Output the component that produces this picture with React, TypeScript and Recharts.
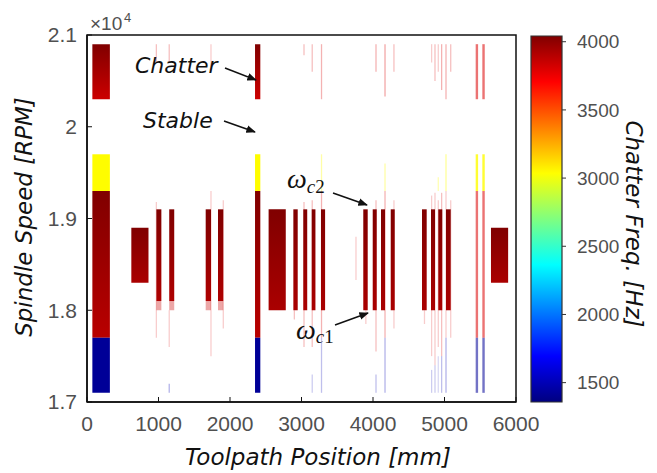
import React from "react";
import { ComposedChart, XAxis, YAxis, ReferenceArea } from "recharts";

// ---------- axes ----------
const xTicks = [0, 1000, 2000, 3000, 4000, 5000, 6000];
const yTicks = [17000, 18000, 19000, 20000, 21000];
const freqTicks = [1500, 2000, 2500, 3000, 3500, 4000];
const freqLimits = [1358, 4042];

// ---------- data ----------
// full spindle-speed sweeps: tool-path ranges [mm]
const sweepCuts = [
  [75, 320],
  [2350, 2424],
];
const sweepFadedCuts = [
  [5436, 5470],
  [5529, 5563],
];
// sweep segments: [rpmLow, rpmHigh, freqTop, freqBottom]
const sweepSegments = [
  [20300, 20900, 4042, 3840],
  [19300, 19700, 3040, 3040],
  [17700, 19300, 4042, 3890],
  [17100, 17700, 1420, 1420],
];
// early chatter stripes (solid 18100-19100, faded 18000-18100)
const earlyStripes = [
  [970, 1040],
  [1150, 1220],
  [1660, 1734],
  [1832, 1906],
];
// lobe stripes (solid 18000-19100)
const lobeStripes = [
  [2886, 2947], [3025, 3080], [3143, 3195], [3273, 3330],
  [3864, 3926], [3996, 4052], [4112, 4168], [4248, 4304],
  [4685, 4751], [4811, 4867], [4913, 4969], [5021, 5087],
];
// blocks: [x0, x1, rpmLow, rpmHigh]
const lobeBlocks = [
  [620, 860, 18300, 18900],
  [2540, 2780, 18000, 19100],
  [5650, 5890, 18300, 18900],
];
// faint traces: [x, rpmLow, rpmHigh, freq, alpha]
const faintTraces = [
  [970, 20700, 20900, 3800, 0.25],
  [1150, 20700, 20900, 3800, 0.25],
  [1734, 20600, 20900, 3800, 0.2],
  [3035, 20780, 20900, 3800, 0.25],
  [3150, 20600, 20900, 3800, 0.25],
  [3280, 20300, 20900, 3800, 0.3],
  [4042, 20600, 20900, 3800, 0.3],
  [4168, 20330, 20900, 3800, 0.35],
  [4293, 20600, 20900, 3800, 0.25],
  [4820, 20700, 20900, 3800, 0.2],
  [4867, 20500, 20900, 3800, 0.25],
  [4913, 20600, 20900, 3800, 0.2],
  [4960, 20400, 20900, 3800, 0.3],
  [5021, 20300, 20900, 3800, 0.3],
  [5087, 20600, 20900, 3800, 0.25],
  [3280, 19300, 19700, 3040, 0.35],
  [4168, 19300, 19600, 3040, 0.35],
  [5021, 19300, 19700, 3040, 0.4],
  [4913, 19300, 19450, 3040, 0.3],
  [970, 17700, 19180, 3800, 0.2],
  [1150, 17600, 18000, 3800, 0.2],
  [1150, 17100, 17200, 1500, 0.3],
  [1734, 17500, 19300, 3800, 0.2],
  [1906, 17800, 19200, 3800, 0.2],
  [2900, 17900, 18000, 3800, 0.25],
  [3035, 17600, 19180, 3800, 0.25],
  [3150, 17600, 19200, 3800, 0.25],
  [3150, 17100, 17300, 1500, 0.2],
  [3280, 17700, 19300, 3800, 0.3],
  [3280, 17100, 17700, 1500, 0.25],
  [3762, 18330, 18800, 3800, 0.2],
  [3900, 17850, 18000, 3800, 0.2],
  [4042, 17550, 19200, 3800, 0.25],
  [4042, 17100, 17300, 1500, 0.25],
  [4168, 17700, 19300, 3800, 0.3],
  [4168, 17100, 17700, 1500, 0.3],
  [4293, 17800, 19200, 3800, 0.2],
  [4720, 17850, 18000, 3800, 0.2],
  [4820, 17500, 19250, 3800, 0.2],
  [4820, 17100, 17350, 1500, 0.2],
  [4867, 17400, 19280, 3800, 0.2],
  [4867, 17100, 17400, 1500, 0.2],
  [4913, 17600, 19200, 3800, 0.2],
  [4913, 17100, 17500, 1500, 0.15],
  [4960, 17500, 19280, 3800, 0.25],
  [4960, 17100, 17500, 1500, 0.25],
  [5021, 17700, 19300, 3800, 0.2],
  [5021, 17100, 17700, 1500, 0.3],
  [5087, 17700, 19200, 3800, 0.2],
];

// ---------- colour map (jet) ----------
function jet(f: number): string {
  const t = (f - freqLimits[0]) / (freqLimits[1] - freqLimits[0]);
  const ch = (v: number) => Math.round(255 * Math.min(1, Math.max(0, v)));
  return `rgb(${ch(1.5 - Math.abs(4 * t - 3))},${ch(1.5 - Math.abs(4 * t - 2))},${ch(
    1.5 - Math.abs(4 * t - 1)
  )})`;
}
const jetStops = [0, 0.125, 0.375, 0.625, 0.875, 1];

type Cell = { x0: number; x1: number; y0: number; y1: number; fTop: number; fBot: number; a: number };
const cells: Cell[] = [];
sweepCuts.forEach(([x0, x1]) =>
  sweepSegments.forEach(([y0, y1, fTop, fBot]) => cells.push({ x0, x1, y0, y1, fTop, fBot, a: 1 }))
);
sweepFadedCuts.forEach(([x0, x1]) =>
  sweepSegments.forEach(([y0, y1, fTop, fBot]) =>
    cells.push({ x0, x1, y0, y1, fTop: Math.min(fTop, 3800), fBot: Math.min(fBot, 3800), a: fTop === 3040 ? 0.8 : 0.55 })
  )
);
earlyStripes.forEach(([x0, x1]) => {
  cells.push({ x0, x1, y0: 18100, y1: 19100, fTop: 4042, fBot: 3920, a: 1 });
  cells.push({ x0, x1, y0: 18000, y1: 18100, fTop: 3850, fBot: 3850, a: 0.35 });
});
lobeStripes.forEach(([x0, x1]) => cells.push({ x0, x1, y0: 18000, y1: 19100, fTop: 4042, fBot: 3930, a: 1 }));
lobeBlocks.forEach(([x0, x1, y0, y1]) => cells.push({ x0, x1, y0, y1, fTop: 4042, fBot: 3930, a: 1 }));

const tickFont = { fontFamily: "Liberation Sans, Arial, sans-serif", fill: "#505050" };
const labelFont = "DejaVu Sans, sans-serif";

export default function App() {
  return (
    <div style={{ position: "absolute", left: 0, top: 0, width: 657, height: 473, background: "#fff" }}>
      <svg width={0} height={0} style={{ position: "absolute" }}>
        <defs>
          {cells.map((c, i) => (
            <linearGradient key={i} id={`cell${i}`} x1="0" y1="0" x2="0" y2="1">
              <stop offset="0" stopColor={jet(c.fTop)} />
              <stop offset="1" stopColor={jet(c.fBot)} />
            </linearGradient>
          ))}
          <linearGradient id="jetbar" x1="0" y1="0" x2="0" y2="1">
            {[...jetStops].reverse().map((t) => (
              <stop key={t} offset={1 - t} stopColor={jet(freqLimits[0] + t * (freqLimits[1] - freqLimits[0]))} />
            ))}
          </linearGradient>
          <marker id="arrow" viewBox="0 0 10 10" refX="9" refY="5" markerWidth="6" markerHeight="6" orient="auto">
            <path d="M0,1 L10,5 L0,9 z" fill="#111" />
          </marker>
        </defs>
      </svg>

      <div style={{ position: "absolute", left: 0, top: 0 }}>
        <ComposedChart width={657} height={473} margin={{ top: 35, right: 141, bottom: 41, left: 27 }}>
          <XAxis
            type="number"
            dataKey="x"
            domain={[0, 6000]}
            ticks={xTicks}
            allowDataOverflow
            height={30}
            tickSize={-5}
            tickMargin={19}
            axisLine={{ stroke: "#111", strokeWidth: 1.5 }}
            tickLine={{ stroke: "#111" }}
            tick={{ ...tickFont, fontSize: 21 }}
          />
          <YAxis
            type="number"
            dataKey="y"
            domain={[17000, 21000]}
            ticks={yTicks}
            allowDataOverflow
            width={60}
            tickSize={-5}
            tickMargin={15}
            tickFormatter={(v: number) => String(v / 10000)}
            axisLine={{ stroke: "#111", strokeWidth: 1.5 }}
            tickLine={{ stroke: "#111" }}
            tick={{ ...tickFont, fontSize: 21 }}
          />
          {faintTraces.map(([x, y0, y1, f, a], i) => (
            <ReferenceArea
              key={`f${i}`}
              x1={x - 9}
              x2={x + 9}
              y1={y0}
              y2={y1}
              fill={jet(f)}
              fillOpacity={a}
              stroke="none"
              ifOverflow="visible"
            />
          ))}
          {cells.map((c, i) => (
            <ReferenceArea
              key={`c${i}`}
              x1={c.x0}
              x2={c.x1}
              y1={c.y0}
              y2={c.y1}
              fill={`url(#cell${i})`}
              fillOpacity={c.a}
              stroke="none"
              ifOverflow="visible"
            />
          ))}
          <ReferenceArea
            x1={0}
            x2={6000}
            y1={17000}
            y2={21000}
            fill="none"
            fillOpacity={0}
            stroke="#111"
            strokeWidth={1.5}
            ifOverflow="visible"
          />
        </ComposedChart>
      </div>

      <div style={{ position: "absolute", left: 0, top: 0 }}>
        <ComposedChart width={657} height={473} margin={{ top: 36, right: 45, bottom: 71, left: 531 }}>
          <XAxis
            type="number"
            dataKey="x"
            domain={[0, 1]}
            allowDataOverflow
            height={0}
            axisLine={false}
            tickLine={false}
            tick={false}
          />
          <YAxis
            type="number"
            dataKey="y"
            orientation="right"
            domain={freqLimits}
            ticks={freqTicks}
            allowDataOverflow
            width={50}
            tickSize={4}
            tickMargin={11}
            axisLine={false}
            tickLine={{ stroke: "#333" }}
            tick={{ ...tickFont, fontSize: 19 }}
          />
          <ReferenceArea
            x1={0}
            x2={1}
            y1={freqLimits[0]}
            y2={freqLimits[1]}
            fill="url(#jetbar)"
            fillOpacity={1}
            stroke="#333"
            strokeWidth={1.2}
            ifOverflow="visible"
          />
        </ComposedChart>
      </div>

      <svg width={657} height={473} style={{ position: "absolute", left: 0, top: 0, pointerEvents: "none" }}>
        <text x={90} y={30} fontFamily="Liberation Sans, Arial, sans-serif" fontSize={19} fill="#505050">
          ×10
        </text>
        <text x={124} y={22} fontFamily="Liberation Sans, Arial, sans-serif" fontSize={13} fill="#505050">
          4
        </text>

        <text x={135} y={73} fontFamily={labelFont} fontStyle="italic" fontSize={22} fill="#111">
          Chatter
        </text>
        <line x1={225} y1={68} x2={256} y2={80} stroke="#111" strokeWidth={1.6} markerEnd="url(#arrow)" />
        <text x={143} y={128} fontFamily={labelFont} fontStyle="italic" fontSize={22} fill="#111">
          Stable
        </text>
        <line x1={224} y1={121} x2={255} y2={132} stroke="#111" strokeWidth={1.6} markerEnd="url(#arrow)" />

        <text x={287} y={188} fontFamily="Liberation Serif, serif" fontSize={28} fill="#111">
          <tspan fontStyle="italic">ω</tspan>
          <tspan fontStyle="italic" fontSize={19} dy={5}>c</tspan>
          <tspan fontSize={19}>2</tspan>
        </text>
        <line x1={333} y1={193} x2={367} y2={205} stroke="#111" strokeWidth={1.6} markerEnd="url(#arrow)" />
        <text x={296} y={339} fontFamily="Liberation Serif, serif" fontSize={28} fill="#111">
          <tspan fontStyle="italic">ω</tspan>
          <tspan fontStyle="italic" fontSize={19} dy={4}>c</tspan>
          <tspan fontSize={19}>1</tspan>
        </text>
        <line x1={335} y1={325} x2={368} y2={313} stroke="#111" strokeWidth={1.6} markerEnd="url(#arrow)" />

        <text
          transform="translate(32,217) rotate(-90)"
          textAnchor="middle"
          fontFamily={labelFont}
          fontStyle="italic"
          fontSize={23}
          fill="#111"
        >
          Spindle Speed [RPM]
        </text>
        <text x={318} y={465} textAnchor="middle" fontFamily={labelFont} fontStyle="italic" fontSize={23} fill="#111">
          Toolpath Position [mm]
        </text>
        <text
          transform="translate(626,224) rotate(90)"
          textAnchor="middle"
          fontFamily={labelFont}
          fontStyle="italic"
          fontSize={23}
          fill="#111"
        >
          Chatter Freq. [Hz]
        </text>
      </svg>
    </div>
  );
}
